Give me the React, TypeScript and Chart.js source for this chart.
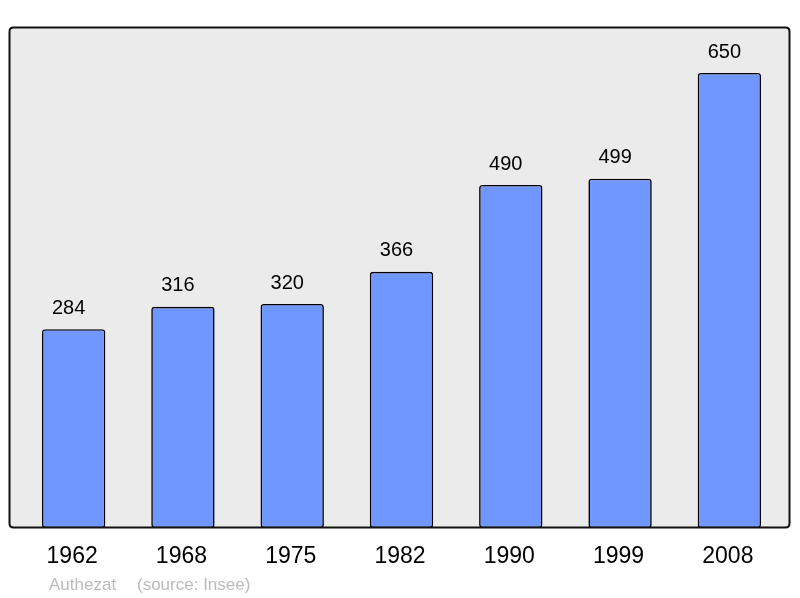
import React, { useEffect, useRef } from "react";
import { Chart, registerables } from "chart.js";

Chart.register(...registerables);

const categories = ["1962", "1968", "1975", "1982", "1990", "1999", "2008"];
const population = [284, 316, 320, 366, 490, 499, 650];
const footerName = "Authezat";
const footerSource = "(source: Insee)";

function framePath(ctx: CanvasRenderingContext2D) {
  const x0 = 9.5, y0 = 27.5, x1 = 789.5, y1 = 527.5, r = 4;
  ctx.beginPath();
  ctx.moveTo(x0 + r, y0);
  ctx.lineTo(x1 - r, y0);
  ctx.quadraticCurveTo(x1, y0, x1, y0 + r);
  ctx.lineTo(x1, y1 - r);
  ctx.quadraticCurveTo(x1, y1, x1 - r, y1);
  ctx.lineTo(x0 + r, y1);
  ctx.quadraticCurveTo(x0, y1, x0, y1 - r);
  ctx.lineTo(x0, y0 + r);
  ctx.quadraticCurveTo(x0, y0, x0 + r, y0);
  ctx.closePath();
}

const framePlugin = {
  id: "frame",
  beforeDraw(chart: any) {
    const ctx = chart.ctx;
    ctx.save();
    framePath(ctx);
    ctx.fillStyle = "#ebebeb";
    ctx.fill();
    ctx.restore();
  },
  afterDatasetsDraw(chart: any) {
    const ctx = chart.ctx;
    ctx.save();
    framePath(ctx);
    ctx.lineWidth = 2;
    ctx.strokeStyle = "#111";
    ctx.stroke();

    const meta = chart.getDatasetMeta(0);
    const xs = chart.scales.x;
    ctx.fillStyle = "#000";
    ctx.textAlign = "center";
    ctx.textBaseline = "middle";
    ctx.font = "20px 'Liberation Sans', Arial, sans-serif";
    meta.data.forEach((bar: any, i: number) => {
      ctx.fillText(String(population[i]), bar.x - 5, bar.y - 21);
    });
    ctx.font = "23px 'Liberation Sans', Arial, sans-serif";
    categories.forEach((c, i) => {
      ctx.fillText(c, xs.getPixelForValue(i) - 1.5, 557);
    });
    ctx.textAlign = "left";
    ctx.fillStyle = "#bbbbbb";
    ctx.font = "17px 'Liberation Sans', Arial, sans-serif";
    ctx.fillText(footerName, 49, 585);
    ctx.fillText(footerSource, 137, 585);
    ctx.restore();
  },
};

export default function App() {
  const ref = useRef<HTMLCanvasElement>(null);
  useEffect(() => {
    document.body.style.margin = "0";
    const chart = new Chart(ref.current!, {
      type: "bar",
      data: {
        labels: categories,
        datasets: [
          {
            data: population,
            backgroundColor: "#7097ff",
            borderColor: "#000",
            borderWidth: 1.6,
            borderRadius: 3,
            borderSkipped: false,
            categoryPercentage: 1,
            barPercentage: 0.58,
          },
        ],
      },
      options: {
        animation: false,
        responsive: false,
        maintainAspectRatio: false,
        layout: { padding: { left: 19, right: 16, top: 27, bottom: 70 } },
        plugins: { legend: { display: false }, tooltip: { enabled: false } },
        scales: {
          x: { display: false, offset: true },
          y: { display: false, min: 0, max: 715.7 },
        },
      },
      plugins: [framePlugin],
    });
    return () => chart.destroy();
  }, []);
  return <canvas ref={ref} width={800} height={598} style={{ display: "block" }} />;
}
